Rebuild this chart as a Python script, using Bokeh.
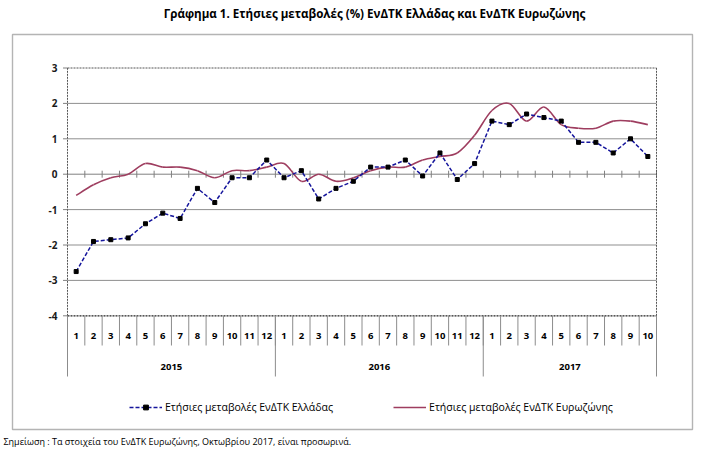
import numpy as np
from bokeh.plotting import figure
from bokeh.models import Range1d, Legend, LegendItem
from bokeh.core.properties import value
from bokeh.embed import file_html
from bokeh.resources import INLINE

# ---- data -----------------------------------------------------------------
years = ["2015", "2016", "2017"]
months_per_year = [12, 12, 10]
month_labels = ["1", "2", "3", "4", "5", "6", "7", "8", "9", "10", "11", "12",
                "1", "2", "3", "4", "5", "6", "7", "8", "9", "10", "11", "12",
                "1", "2", "3", "4", "5", "6", "7", "8", "9", "10"]

# annual HICP change (%), Greece
greece = [-2.75, -1.9, -1.85, -1.8, -1.4, -1.1, -1.25, -0.4, -0.8, -0.1, -0.1, 0.4,
          -0.1, 0.1, -0.7, -0.4, -0.2, 0.2, 0.2, 0.4, -0.05, 0.6, -0.15, 0.3,
          1.5, 1.4, 1.7, 1.6, 1.5, 0.9, 0.9, 0.6, 1.0, 0.5]
# annual HICP change (%), euro area
euro = [-0.6, -0.3, -0.1, 0.0, 0.3, 0.2, 0.2, 0.1, -0.1, 0.1, 0.1, 0.2,
        0.3, -0.2, 0.0, -0.2, -0.1, 0.1, 0.2, 0.2, 0.4, 0.5, 0.6, 1.1,
        1.8, 2.0, 1.5, 1.9, 1.4, 1.3, 1.3, 1.5, 1.5, 1.4]

y_ticks = [3, 2, 1, 0, -1, -2, -3, -4]

title_text = "Γράφημα 1. Ετήσιες μεταβολές (%) ΕνΔΤΚ Ελλάδας και ΕνΔΤΚ Ευρωζώνης"
greece_label = "Ετήσιες μεταβολές ΕνΔΤΚ Ελλάδας"
euro_label = "Ετήσιες μεταβολές ΕνΔΤΚ Ευρωζώνης"
note_text = "Σημείωση :  Τα στοιχεία του ΕνΔΤΚ Ευρωζώνης, Οκτωβρίου 2017, είναι προσωρινά."

# ---- layout (pixels) ------------------------------------------------------
W, H = 707, 459
PL, PR = 67.0, 656.0          # plot area left / right
PT = 67.5                      # top of value axis (y = 3)
YS = 35.4                      # pixels per percentage point
n = len(greece)
XS = (PR - PL) / n             # pixels per month
YMAX, YMIN = max(y_ticks), min(y_ticks)

def dx(px):
    return (px - PL) / XS

def dy(py):
    return YMAX - (py - PT) / YS

FONT = value("Open Sans")

p = figure(width=W, height=H,
           x_range=Range1d(dx(0), dx(W)), y_range=Range1d(dy(H), dy(0)),
           x_axis_location=None, y_axis_location=None,
           output_backend="svg", toolbar_location=None,
           min_border=0, outline_line_color=None,
           background_fill_color="white", border_fill_color="white")
p.grid.visible = False

# outer chart frame
p.quad(left=dx(12), right=dx(692), top=dy(34), bottom=dy(429),
       fill_color=None, line_color="#b4b4b4", line_width=1.4)

# title
p.text(x=[dx(374)], y=[dy(13)], text=[title_text], text_font=FONT,
       text_font_size="11.6px", text_font_style="bold", text_color="#000000",
       text_align="center", text_baseline="middle")

# horizontal gridlines
grid_vals = [v for v in y_ticks if v not in (YMAX, YMIN, 0)]
p.segment(x0=[0] * len(grid_vals), x1=[n] * len(grid_vals), y0=grid_vals, y1=grid_vals,
          line_color="#8f8f8f", line_width=1)

# category axis crossing at zero, with tick marks between months
bounds = np.arange(n + 1)
p.segment(x0=[0], x1=[n], y0=[0], y1=[0], line_color="#808080", line_width=1)
p.segment(x0=bounds, x1=bounds, y0=[3.5 / YS] * (n + 1), y1=[-3.5 / YS] * (n + 1),
          line_color="#808080", line_width=1)

# plot-area border (dotted)
p.segment(x0=[0, 0, n], x1=[n, 0, n], y0=[YMAX, YMIN, YMIN], y1=[YMAX, YMAX, YMAX],
          line_color="#555555", line_width=1, line_dash="2 1")
p.segment(x0=[0], x1=[n], y0=[YMIN], y1=[YMIN],
          line_color="#222222", line_width=1.2, line_dash="2 1")

# value-axis ticks and labels
p.segment(x0=[dx(62.5)] * len(y_ticks), x1=[0] * len(y_ticks), y0=y_ticks, y1=y_ticks,
          line_color="#808080", line_width=1)
p.text(x=[dx(57)] * len(y_ticks), y=y_ticks, text=[str(v) for v in y_ticks],
       text_font=FONT, text_font_size="10px", text_font_style="bold",
       text_color="#1a1a1a", text_align="right", text_baseline="middle")

# month / year label table under the plot
year_bounds = np.concatenate([[0], np.cumsum(months_per_year)])
p.segment(x0=bounds, x1=bounds, y0=[YMIN] * (n + 1), y1=[dy(345)] * (n + 1),
          line_color="#8c8c8c", line_width=1)
p.segment(x0=year_bounds, x1=year_bounds, y0=[YMIN] * len(year_bounds),
          y1=[dy(376)] * len(year_bounds), line_color="#8c8c8c", line_width=1)
xc = np.arange(n) + 0.5
p.text(x=xc, y=[dy(335)] * n, text=month_labels, text_font=FONT,
       text_font_size="9.5px", text_font_style="bold", text_color="#000000",
       text_align="center", text_baseline="middle")
year_centers = (year_bounds[:-1] + year_bounds[1:]) / 2
p.text(x=year_centers, y=[dy(366)] * len(years), text=years, text_font=FONT,
       text_font_size="9.5px", text_font_style="bold", text_color="#000000",
       text_align="center", text_baseline="middle")

# euro area: smoothed curve (cubic Bezier through each pair of points)
ey = np.array(euro, dtype=float)
ex = xc
ex_prev = np.concatenate([[ex[0]], ex[:-1]])
ey_prev = np.concatenate([[ey[0]], ey[:-1]])
ex_next = np.concatenate([ex[1:], [ex[-1]]])
ey_next = np.concatenate([ey[1:], [ey[-1]]])
c0x = ex + (ex_next - ex_prev) / 6
c0y = ey + (ey_next - ey_prev) / 6
c1x = ex - (ex_next - ex_prev) / 6
c1y = ey - (ey_next - ey_prev) / 6
euro_r = p.bezier(x0=ex[:-1], y0=ey[:-1], x1=ex[1:], y1=ey[1:],
                  cx0=c0x[:-1], cy0=c0y[:-1], cx1=c1x[1:], cy1=c1y[1:],
                  line_color="#9e3d5f", line_width=1.6)

# Greece: dashed line with square markers
gr_line = p.line(xc, greece, line_color="#15159c", line_width=1.5, line_dash="4 2")
gr_pts = p.scatter(xc, greece, marker="square", size=4, fill_color="#000000",
                   line_color="#000000")

legend = Legend(items=[LegendItem(label=greece_label, renderers=[gr_line, gr_pts]),
                       LegendItem(label=euro_label, renderers=[euro_r])],
                orientation="horizontal", location=(129, 45),
                background_fill_alpha=0, border_line_color=None,
                label_text_font="Open Sans", label_text_font_size="10.5px",
                label_text_color="#000000",
                glyph_width=33, glyph_height=12, label_height=12,
                label_standoff=3, spacing=60, padding=0, margin=0)
p.add_layout(legend)

# footnote
p.text(x=[dx(3)], y=[dy(441)], text=[note_text], text_font=FONT,
       text_font_size="9px", text_color="#000000",
       text_align="left", text_baseline="middle")

open("out.html", "w").write(file_html(p, INLINE))
